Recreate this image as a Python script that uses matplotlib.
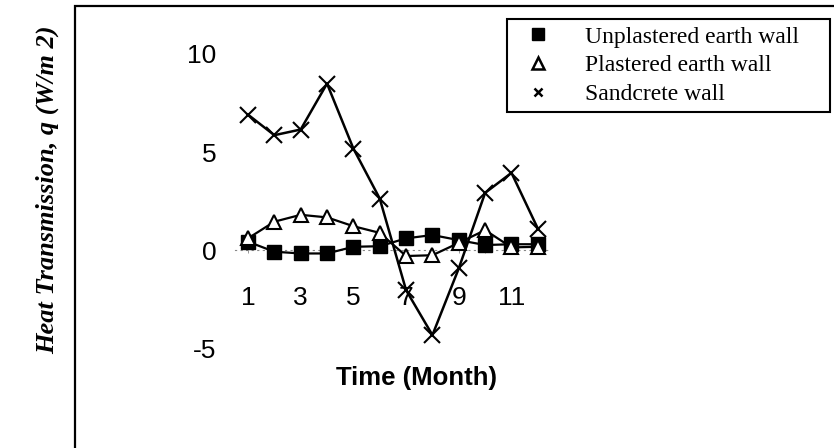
import matplotlib
matplotlib.use("Agg")
import matplotlib.pyplot as plt
from matplotlib.lines import Line2D
from matplotlib.patches import Rectangle

plt.rcParams["font.family"] = ["Liberation Sans", "DejaVu Sans"]
plt.rcParams["axes.unicode_minus"] = False

# --- data ---
months = [1, 2, 3, 4, 5, 6, 7, 8, 9, 10, 11, 12]
month_labels = ["1", "", "3", "", "5", "", "7", "", "9", "", "11", ""]
unplastered = [0.43, -0.08, -0.17, -0.17, 0.17, 0.20, 0.60, 0.77, 0.51, 0.26, 0.30, 0.30]
plastered = [0.60, 1.45, 1.80, 1.67, 1.22, 0.88, -0.30, -0.26, 0.37, 1.02, 0.14, 0.17]
sandcrete = [6.91, 5.86, 6.15, 8.49, 5.18, 2.63, -2.04, -4.33, -0.93, 2.92, 3.94, 1.10]
y_ticks = [-5, 0, 5, 10]
series_names = ["Unplastered earth wall", "Plastered earth wall", "Sandcrete wall"]

W, H = 834, 448
fig = plt.figure(figsize=(W / 100, H / 100), dpi=100)
fig.patch.set_facecolor("white")

# axes placed to match the scan (pixels -> figure fraction)
left, right, top, bottom = 234.8, 551.0, 54.0, 348.2
ax = fig.add_axes([left / W, 1 - bottom / H, (right - left) / W, (bottom - top) / H])
ax.set_facecolor("none")

ax.plot(months, unplastered, color="black", lw=1.6, marker="s", ms=9.5,
        mfc="black", mec="black", zorder=3)
ax.plot(months, plastered, color="black", lw=1.6, marker="^", ms=10,
        mfc="white", mec="black", mew=1.5, zorder=3)
ax.plot(months, sandcrete, color="black", lw=1.8, marker="x", ms=12,
        mec="black", mew=1.5, zorder=3)

ax.set_xlim(0.5, 12.5)
ax.set_ylim(-5, 10)
for s in ("top", "right", "left"):
    ax.spines[s].set_visible(False)
ax.spines["bottom"].set_position(("data", 0))
ax.spines["bottom"].set_linestyle((0, (1, 4)))
ax.spines["bottom"].set_color("#888888")
ax.spines["bottom"].set_linewidth(0.8)

ax.set_xticks(months)
ax.set_xticklabels(month_labels)
ax.set_yticks(y_ticks)
ax.tick_params(axis="x", length=2, width=0.6, color="#888888", pad=24, labelsize=19)
ax.tick_params(axis="y", length=0, pad=13, labelsize=19)

# legend with markers only
handles = [
    Line2D([], [], ls="none", marker="s", ms=9, mfc="black", mec="black"),
    Line2D([], [], ls="none", marker="^", ms=8, mfc="white", mec="black", mew=1.8),
    Line2D([], [], ls="none", marker="x", ms=6, mec="black", mew=1.8),
]
leg = fig.legend(handles, series_names, loc="upper left",
                 bbox_to_anchor=(507 / W, 1 - 108 / H, (830 - 507) / W, (108 - 19) / H),
                 mode="expand", prop={"family": "Liberation Serif", "size": 17},
                 frameon=True, fancybox=False, framealpha=1, edgecolor="black",
                 borderpad=0.3, handlelength=2.0, handletextpad=1.0, labelspacing=0.3,
                 borderaxespad=0)
leg.get_frame().set_linewidth(1.5)

# outer chart-area border (runs off the right and bottom of the scan)
fig.add_artist(Rectangle((75 / W, -0.1), 1.0, 1 - 6 / H + 0.1, transform=fig.transFigure,
                         fill=False, lw=1.6, ec="black", clip_on=False))

fig.text(416 / W, 1 - 378 / H, "Time (Month)", ha="center", va="center",
         fontsize=18.5, fontweight="bold")
fig.text(47 / W, 1 - 190 / H, "Heat Transmission, q (W/m 2)", ha="center", va="center",
         rotation=90, fontsize=19, fontweight="bold", fontstyle="italic",
         family=["Liberation Serif", "DejaVu Serif"])

fig.savefig("out.png", dpi=100, facecolor="white")
